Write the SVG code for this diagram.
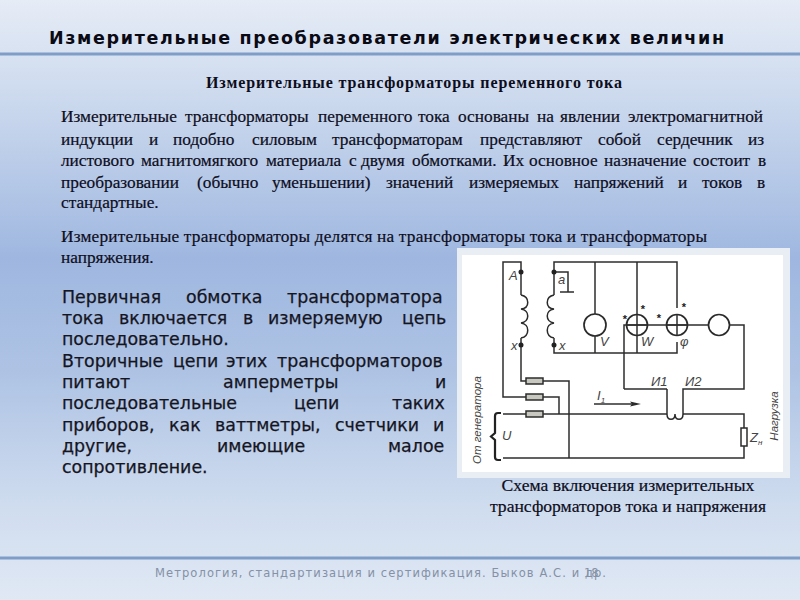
<svg xmlns="http://www.w3.org/2000/svg" width="800" height="600" viewBox="0 0 800 600">
<defs>
<linearGradient id="bg" x1="0" y1="0" x2="0" y2="1">
<stop offset="0" stop-color="#e6ecf6"/><stop offset="0.2" stop-color="#c6d5ec"/><stop offset="0.43" stop-color="#9fb7e0"/><stop offset="0.62" stop-color="#aec3e4"/><stop offset="0.85" stop-color="#d0ddef"/><stop offset="1" stop-color="#e0e8f4"/>
</linearGradient>
<filter id="soft" x="-5%" y="-5%" width="110%" height="110%"><feGaussianBlur stdDeviation="0.35"/></filter>
</defs>
<style>
.rule{stroke:#7f9dc6;stroke-width:3}
.serif{font-family:"Liberation Serif",serif;font-size:17.3px;fill:#0d0d1c;stroke:#0d0d1c;stroke-width:.2}
.sans{font-family:"DejaVu Sans",sans-serif;font-size:17.4px;fill:#15151f;stroke:#15151f;stroke-width:.25}
.wire{fill:none;stroke:#2b2b2b;stroke-width:1.5}
.dev{fill:none;stroke:#2b2b2b;stroke-width:1.7}
.fuse{fill:#c8c8c0;stroke:#2b2b2b;stroke-width:1.5}
.lab{font-family:"Liberation Sans",sans-serif;font-style:italic;font-size:13px;fill:#444}
.vlab{font-family:"Liberation Sans",sans-serif;font-style:italic;font-size:11.500px;fill:#444;text-anchor:middle}
.star{font-family:"Liberation Sans",sans-serif;font-weight:bold;font-size:11px;fill:#222;text-anchor:middle}
</style>
<rect width="800" height="600" fill="url(#bg)"/>
<line class="rule" x1="0" y1="54" x2="800" y2="54"/>
<line class="rule" x1="0" y1="558" x2="800" y2="558"/>
<g id="title"><text x="49" y="44" font-family="'DejaVu Sans',sans-serif" font-weight="bold" font-size="17.500px" fill="#0a0a14" textLength="675" lengthAdjust="spacing">Измерительные преобразователи электрических величин</text></g>
<g id="subtitle"><text x="206" y="88" font-family="'Liberation Serif',serif" font-weight="bold" font-size="16px" fill="#0d0d1c" textLength="416" lengthAdjust="spacing">Измерительные трансформаторы переменного тока</text></g>
<g id="intro" class="serif">
<text y="122"><tspan x="61">Измерительные</tspan> <tspan x="185">трансформаторы</tspan> <tspan x="318">переменного</tspan> <tspan x="418">тока</tspan> <tspan x="458">основаны</tspan> <tspan x="537">на</tspan> <tspan x="560">явлении</tspan> <tspan x="628">электромагнитной</tspan></text>
<text y="145"><tspan x="61">индукции</tspan> <tspan x="149">и</tspan> <tspan x="173">подобно</tspan> <tspan x="252">силовым</tspan> <tspan x="332">трансформаторам</tspan> <tspan x="480">представляют</tspan> <tspan x="598">собой</tspan> <tspan x="657">сердечник</tspan> <tspan x="748">из</tspan></text>
<text y="166"><tspan x="61">листового</tspan> <tspan x="141">магнитомягкого</tspan> <tspan x="266">материала</tspan> <tspan x="349">с</tspan> <tspan x="361">двумя</tspan> <tspan x="412">обмотками.</tspan> <tspan x="503">Их</tspan> <tspan x="529">основное</tspan> <tspan x="604">назначение</tspan> <tspan x="693">состоит</tspan> <tspan x="758">в</tspan></text>
<text y="188"><tspan x="61">преобразовании</tspan> <tspan x="197">(обычно</tspan> <tspan x="272">уменьшении)</tspan> <tspan x="386">значений</tspan> <tspan x="469">измеряемых</tspan> <tspan x="574">напряжений</tspan> <tspan x="678">и</tspan> <tspan x="702">токов</tspan> <tspan x="757">в</tspan></text>
<text x="61" y="208">стандартные.</text>
<text x="61" y="242" textLength="646" lengthAdjust="spacing">Измерительные трансформаторы делятся на трансформаторы тока и трансформаторы</text>
<text x="61" y="263">напряжения.</text>
</g>
<g id="body" class="sans">
<text y="303"><tspan x="62">Первичная</tspan> <tspan x="186">обмотка</tspan> <tspan x="287">трансформатора</tspan></text>
<text y="324"><tspan x="62">тока</tspan> <tspan x="119">включается</tspan> <tspan x="243">в</tspan> <tspan x="268">измеряемую</tspan> <tspan x="402">цепь</tspan></text>
<text x="62" y="345">последовательно.</text>
<text y="367"><tspan x="62">Вторичные</tspan> <tspan x="173">цепи</tspan> <tspan x="226">этих</tspan> <tspan x="277">трансформаторов</tspan></text>
<text y="388"><tspan x="62">питают</tspan> <tspan x="223">амперметры</tspan> <tspan x="435">и</tspan></text>
<text y="409"><tspan x="62">последовательные</tspan> <tspan x="294">цепи</tspan> <tspan x="392">таких</tspan></text>
<text y="431"><tspan x="62">приборов,</tspan> <tspan x="169">как</tspan> <tspan x="215">ваттметры,</tspan> <tspan x="335">счетчики</tspan> <tspan x="433">и</tspan></text>
<text y="452"><tspan x="62">другие,</tspan> <tspan x="217">имеющие</tspan> <tspan x="388">малое</tspan></text>
<text x="62" y="473">сопротивление.</text>
</g>
<rect id="panel-frame" x="457" y="248" width="333" height="230" fill="#e9eef5"/>
<rect id="panel" x="462" y="255" width="321" height="217" fill="#fff"/>
<g id="connectors" filter="url(#soft)">
<path class="wire" d="M521 272V262H503V397H526M543 397H559V414"/>
<path class="wire" d="M521 345V381H526M543 381H569V458"/>
<path class="wire" d="M503 414H526M543 414H667M683 414H744V428M744 446V458H503"/>
<path class="wire" d="M554 272V262H677V308M677 342V353H554V345"/>
<path class="wire" d="M554 272H568V292M560 292H574"/>
<path class="wire" d="M595 262V314M595 336V353"/>
<path class="wire" d="M637 262V315M637 335V353"/>
<path class="wire" d="M624 389V325H709M729 325H744V389H683V414"/>
<path class="wire" d="M667 389H624M667 389V414"/>
<path class="wire" d="M667 414C667 421 675 421 675 414C675 421 683 421 683 414"/>
<path class="wire" d="M594 404H632"/>
<path d="M641 404L630 401.5L632 404L630 406.5Z" fill="#2b2b2b"/>
<path d="M501 413H498Q495 413 495 416V433L491 436.500L495 440V457Q495 460 498 460H501" fill="none" stroke="#222" stroke-width="2.200"/>
</g>
<g id="primary-coil" filter="url(#soft)">
<path class="wire" d="M521 295C530 297 530 308 521 309C530 310 530 322 521 323C530 324 530 336 521 338M521 272V295M521 338V345"/>
<circle cx="521" cy="272" r="2.500" fill="#222"/><circle cx="521" cy="345" r="2.500" fill="#222"/>
</g>
<g id="core" filter="url(#soft)"><line x1="538" y1="297" x2="538" y2="337" stroke="#444" stroke-width="1.500"/></g>
<g id="secondary-coil" filter="url(#soft)">
<path class="wire" d="M554 295C545 297 545 308 554 309C545 310 545 322 554 323C545 324 545 336 554 338M554 272V295M554 338V345"/>
<circle cx="554" cy="272" r="2.500" fill="#222"/><circle cx="554" cy="345" r="2.500" fill="#222"/>
</g>
<g id="voltmeter" filter="url(#soft)"><circle class="dev" cx="595" cy="325" r="11"/></g>
<g id="wattmeter" filter="url(#soft)"><circle class="dev" cx="637" cy="325" r="10.500"/><path class="wire" d="M637 314V336M626 325H648"/></g>
<g id="phasemeter" filter="url(#soft)"><circle class="dev" cx="677" cy="325" r="10.500"/><path class="wire" d="M677 314V336M666 325H688"/></g>
<g id="ammeter" filter="url(#soft)"><circle class="dev" cx="719" cy="325" r="10.500"/></g>
<g id="fuse-1" filter="url(#soft)"><rect class="fuse" x="526" y="378" width="17" height="6"/></g>
<g id="fuse-2" filter="url(#soft)"><rect class="fuse" x="526" y="394" width="17" height="6"/></g>
<g id="fuse-3" filter="url(#soft)"><rect class="fuse" x="526" y="411" width="17" height="6"/></g>
<g id="load" filter="url(#soft)"><rect x="741" y="428" width="6" height="18" fill="#fff" stroke="#2b2b2b" stroke-width="1.500"/></g>
<g id="labels">
<text class="lab" x="509" y="280">A</text><text class="lab" x="511" y="350">x</text>
<text class="lab" x="558" y="284">a</text><text class="lab" x="559" y="350">x</text>
<text class="lab" x="600" y="346">V</text><text class="lab" x="641" y="346">W</text><text class="lab" x="680" y="346">φ</text>
<text class="lab" x="502" y="440">U</text><text class="lab" x="651" y="386">И1</text><text class="lab" x="685" y="386">И2</text>
<text class="lab" x="597" y="400">I<tspan font-size="8" dy="3">1</tspan></text>
<text class="lab" x="750" y="442">Z<tspan font-size="8" dy="3">н</tspan></text>
<text class="vlab" transform="translate(481 420) rotate(-90)">От генератора</text>
<text class="vlab" transform="translate(778 416) rotate(-90)">Нагрузка</text>
<text class="star" x="643" y="313">*</text><text class="star" x="625" y="323">*</text><text class="star" x="659" y="322">*</text><text class="star" x="684" y="311">*</text>
</g>
<g id="caption" class="serif" text-anchor="middle" style="font-size:17.6px">
<text x="628" y="491">Схема включения измерительных</text>
<text x="628" y="512">трансформаторов тока и напряжения</text>
</g>
<g id="footer" font-family="'DejaVu Sans',sans-serif" font-size="11.500px" fill="#8491a6">
<text x="155" y="577" textLength="451" lengthAdjust="spacing">Метрология, стандартизация и сертификация. Быков А.С. и др.</text>
<text x="584" y="577">18</text>
</g>
</svg>
